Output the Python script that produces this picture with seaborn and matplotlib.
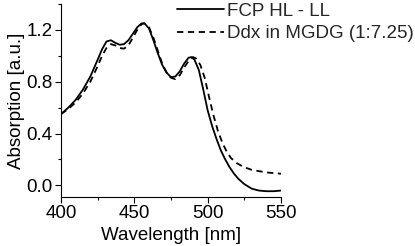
import matplotlib
matplotlib.use("Agg")
import matplotlib.pyplot as plt
from matplotlib.ticker import MultipleLocator, FormatStrFormatter
import pandas as pd
import seaborn as sns

# Spectra
wl_fcp = [400, 405, 410, 415, 420, 425, 428, 431, 434, 437, 440, 443, 446, 449, 452,
          455, 457, 460, 463, 466, 469, 472, 475, 478, 481, 484, 487, 489, 491, 494,
          497, 500, 503, 506, 509, 512, 515, 518, 521, 525, 530, 535, 540, 545, 550]
abs_fcp = [0.55, 0.60, 0.66, 0.74, 0.84, 0.97, 1.05, 1.11, 1.12, 1.10, 1.085, 1.09, 1.12, 1.17, 1.22,
           1.25, 1.25, 1.21, 1.12, 1.02, 0.93, 0.87, 0.835, 0.84, 0.88, 0.94, 0.985, 0.99, 0.97, 0.89,
           0.74, 0.58, 0.46, 0.36, 0.27, 0.20, 0.14, 0.09, 0.05, 0.01, -0.025, -0.04, -0.045, -0.045, -0.04]

wl_ddx = [400, 405, 410, 415, 420, 425, 428, 431, 434, 437, 440, 443, 446, 449, 452,
          455, 457, 460, 463, 466, 469, 472, 475, 478, 481, 484, 487, 490, 492, 495,
          498, 501, 504, 507, 510, 513, 516, 520, 525, 530, 535, 540, 545, 550]
abs_ddx = [0.55, 0.59, 0.64, 0.71, 0.80, 0.92, 1.00, 1.06, 1.09, 1.08, 1.06, 1.055, 1.08, 1.14, 1.20,
           1.245, 1.25, 1.22, 1.14, 1.04, 0.94, 0.87, 0.83, 0.82, 0.85, 0.91, 0.96, 0.99, 0.98, 0.93,
           0.83, 0.68, 0.54, 0.42, 0.33, 0.26, 0.21, 0.17, 0.14, 0.12, 0.11, 0.10, 0.095, 0.09]

label_fcp = "FCP HL - LL"
label_ddx = "Ddx in MGDG (1:7.25)"

sns.set_theme(style="ticks")
plt.rcParams["font.family"] = ["Liberation Sans", "DejaVu Sans"]
fs = 13.5

df_fcp = pd.DataFrame({"wavelength": wl_fcp, "absorption": abs_fcp})
df_ddx = pd.DataFrame({"wavelength": wl_ddx, "absorption": abs_ddx})

fig = plt.figure(figsize=(4.15, 2.46), dpi=100)
ax = fig.add_axes([0.147, 0.199, 0.53, 0.785])

sns.lineplot(df_fcp, x="wavelength", y="absorption", ax=ax, color="black",
             linewidth=1.3, label=label_fcp)
sns.lineplot(df_ddx, x="wavelength", y="absorption", ax=ax, color="black",
             linewidth=1.3, linestyle=(0, (3.5, 2.5)), label=label_ddx)

ax.set_xlim(400, 550)
ax.set_ylim(-0.09, 1.4)
ax.xaxis.set_major_locator(MultipleLocator(50))
ax.xaxis.set_minor_locator(MultipleLocator(25))
ax.yaxis.set_major_locator(MultipleLocator(0.4))
ax.yaxis.set_minor_locator(MultipleLocator(0.2))
ax.yaxis.set_major_formatter(FormatStrFormatter("%.1f"))
ax.tick_params(which="major", length=4, width=0.8, labelsize=fs, pad=2,
               color="black", labelcolor="black")
ax.tick_params(which="minor", length=2.5, width=0.8, color="black")
sns.despine(ax=ax)
for s in ["left", "bottom"]:
    ax.spines[s].set_color("black")
    ax.spines[s].set_linewidth(0.8)

ax.set_xlabel("Wavelength [nm]", fontsize=fs, labelpad=3, color="black")
ax.set_ylabel("Absorption [a.u.]", fontsize=fs, labelpad=1, color="black")

ax.legend(loc="upper left", bbox_to_anchor=(0.426, 0.99), bbox_transform=fig.transFigure,
          frameon=False, fontsize=fs, handlelength=2.5, handletextpad=0.16,
          labelspacing=0.3, borderaxespad=0, borderpad=0)

fig.savefig("out.png", dpi=100, facecolor="white")
